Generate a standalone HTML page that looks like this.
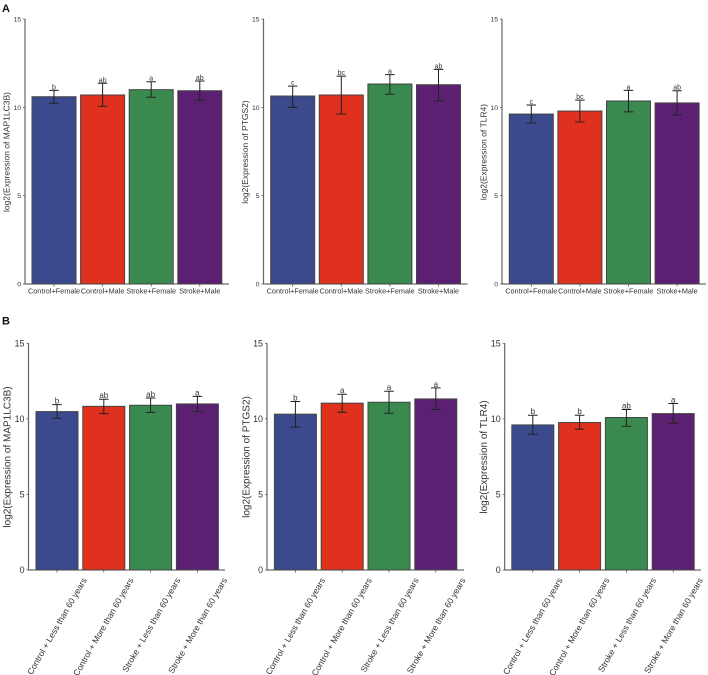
<!DOCTYPE html>
<html lang="en">
<head>
<meta charset="utf-8">
<title>Gene expression bar charts</title>
<style>
html,body{margin:0;padding:0;background:#fff;overflow:hidden;}
#chart{display:block;width:708px;height:675px;font-family:"Liberation Sans",Arial,sans-serif;filter:blur(0.3px);}
</style>
</head>
<body>
<svg id="chart" xmlns="http://www.w3.org/2000/svg" width="708" height="675" viewBox="0 0 708 675"></svg>
<script>
// ---- data ----
const sexCategories = ['Control+Female','Control+Male','Stroke+Female','Stroke+Male'];
const ageCategories = ['Control + Less than 60 years','Control + More than 60 years','Stroke + Less than 60 years','Stroke + More than 60 years'];
const yTicks = [0,5,10,15];

const a1Means = [10.6,10.7,11.0,10.94];
const a1Upper = [10.96,11.36,11.45,11.49];
const a1Lower = [10.23,10.06,10.57,10.4];
const a1Letters = ['b','ab','a','ab'];

const a2Means = [10.64,10.7,11.32,11.28];
const a2Upper = [11.2,11.77,11.85,12.15];
const a2Lower = [10.0,9.62,10.74,10.36];
const a2Letters = ['c','bc','a','ab'];

const a3Means = [9.62,9.79,10.36,10.25];
const a3Upper = [10.13,10.41,10.96,10.94];
const a3Lower = [9.11,9.17,9.74,9.57];
const a3Letters = ['c','bc','a','ab'];

const b1Means = [10.48,10.83,10.9,10.99];
const b1Upper = [10.94,11.3,11.38,11.49];
const b1Lower = [10.04,10.35,10.43,10.5];
const b1Letters = ['b','ab','ab','a'];

const b2Means = [10.31,11.04,11.1,11.32];
const b2Upper = [11.15,11.63,11.83,12.05];
const b2Lower = [9.45,10.44,10.37,10.62];
const b2Letters = ['b','a','a','a'];

const b3Means = [9.6,9.76,10.09,10.35];
const b3Upper = [10.24,10.24,10.62,11.02];
const b3Lower = [8.98,9.32,9.51,9.71];
const b3Letters = ['b','b','ab','a'];

// ---- layout and styling ----
const barColors = ['#3b4a8c','#e0301e','#3a8a50','#5c2072'];
const svgNS = 'http://www.w3.org/2000/svg';
const root = document.getElementById('chart');

function make(tag, attrs, parent, text) {
  const el = document.createElementNS(svgNS, tag);
  for (const k in attrs) el.setAttribute(k, attrs[k]);
  if (text !== undefined) el.textContent = text;
  parent.appendChild(el);
  return el;
}

function drawPanel(p) {
  const g = make('g', {}, root);
  
  

  const yScale = v => p.y0 + (p.y15 - p.y0) * v / 15;
  const xScale = i => p.firstX + p.step * i;

  // bars
  p.means.forEach((m, i) => {
    const bar = make('rect', {
      x: xScale(i) - p.barHalf, y: yScale(m), width: p.barHalf * 2, height: p.y0 - yScale(m),
      fill: barColors[i], stroke: '#444', 'stroke-width': 1
    }, g);
    
    
  });

  // error bars and significance letters
  p.means.forEach((m, i) => {
    const cx = xScale(i), top = yScale(p.upper[i]), bot = yScale(p.lower[i]);
    const err = make('path', {
      d: 'M' + cx + ' ' + top + 'V' + bot + 'M' + (cx - 4.8) + ' ' + top + 'H' + (cx + 4.8) + 'M' + (cx - 4.8) + ' ' + bot + 'H' + (cx + 4.8),
      fill: 'none', stroke: '#222', 'stroke-width': 1
    }, g);
    
    

    const letter = make('text', {
      x: cx, y: top - 1, 'text-anchor': 'middle', 'font-size': p.letterSize, fill: '#333'
    }, g, p.letters[i]);
    
    
  });

  // axes
  const yAxis = make('line', {x1: p.axisX, x2: p.axisX, y1: yScale(15), y2: p.y0, stroke: '#666', 'stroke-width': 1.2}, g);
  
  
  const xAxis = make('line', {x1: p.axisX, x2: p.axisEnd, y1: p.y0, y2: p.y0, stroke: '#444', 'stroke-width': 1}, g);
  
  

  // y ticks
  yTicks.forEach(t => {
    make('line', {x1: p.axisX - 2, x2: p.axisX, y1: yScale(t), y2: yScale(t), stroke: '#444', 'stroke-width': 0.7}, g);
    const lab = make('text', {
      x: p.axisX - 4, y: yScale(t) + p.tickSize * 0.36, 'text-anchor': 'end', 'font-size': p.tickSize, fill: '#333'
    }, g, String(t));
    
    
  });

  // x ticks and labels
  p.categories.forEach((c, i) => {
    const cx = xScale(i);
    make('line', {x1: cx, x2: cx, y1: p.y0, y2: p.y0 + 2.5, stroke: '#444', 'stroke-width': 0.7}, g);
    let lab;
    if (p.rotated) {
      const ax = cx + 30, ay = p.y0 + 10;
      lab = make('text', {
        x: ax, y: ay, 'text-anchor': 'end', 'font-size': p.catSize, fill: '#333',
        transform: 'rotate(-60 ' + ax + ' ' + ay + ')'
      }, g, c);
    } else {
      lab = make('text', {
        x: cx, y: p.y0 + 9.5, 'text-anchor': 'middle', 'font-size': p.catSize, fill: '#333'
      }, g, c);
    }
    
    
  });

  // y title
  const title = make('text', {
    x: p.titleX, y: p.titleY, 'text-anchor': 'middle', 'font-size': p.titleSize, fill: '#333',
    transform: 'rotate(-90 ' + p.titleX + ' ' + p.titleY + ')'
  }, g, p.title);
  
  
}

const topRow = {y0: 284, y15: 19, step: 48.6, barHalf: 22, rotated: false, categories: sexCategories,
  catSize: 7.3, tickSize: 6.8, titleSize: 8.5, letterSize: 7, titleY: 152};
const bottomRow = {y0: 570, y15: 343.3, step: 46.8, barHalf: 21, rotated: true, categories: ageCategories,
  catSize: 8.6, tickSize: 8.9, titleSize: 10, letterSize: 8, titleY: 457};

drawPanel(Object.assign({}, topRow, {id:'a1', axisX:25, axisEnd:229, firstX:54, titleX:9.5,
  title:'log2(Expression of MAP1LC3B)', means:a1Means, upper:a1Upper, lower:a1Lower, letters:a1Letters}));
drawPanel(Object.assign({}, topRow, {id:'a2', axisX:263.5, axisEnd:467.5, firstX:292.7, titleX:248,
  title:'log2(Expression of PTGS2)', means:a2Means, upper:a2Upper, lower:a2Lower, letters:a2Letters}));
drawPanel(Object.assign({}, topRow, {id:'a3', axisX:502, axisEnd:706, firstX:531.3, titleX:486.5,
  title:'log2(Expression of TLR4)', means:a3Means, upper:a3Upper, lower:a3Lower, letters:a3Letters}));
drawPanel(Object.assign({}, bottomRow, {id:'b1', axisX:28.5, axisEnd:225, firstX:57, titleX:10.5,
  title:'log2(Expression of MAP1LC3B)', means:b1Means, upper:b1Upper, lower:b1Lower, letters:b1Letters}));
drawPanel(Object.assign({}, bottomRow, {id:'b2', axisX:267, axisEnd:464, firstX:295.4, titleX:249.5,
  title:'log2(Expression of PTGS2)', means:b2Means, upper:b2Upper, lower:b2Lower, letters:b2Letters}));
drawPanel(Object.assign({}, bottomRow, {id:'b3', axisX:504.7, axisEnd:701, firstX:532.8, titleX:487,
  title:'log2(Expression of TLR4)', means:b3Means, upper:b3Upper, lower:b3Lower, letters:b3Letters}));

const labelA = make('text', {x: 2, y: 12, 'font-size': 11, 'font-weight': 'bold', fill: '#111'}, root, 'A');


const labelB = make('text', {x: 2, y: 324.5, 'font-size': 11, 'font-weight': 'bold', fill: '#111'}, root, 'B');


</script>
</body>
</html>
